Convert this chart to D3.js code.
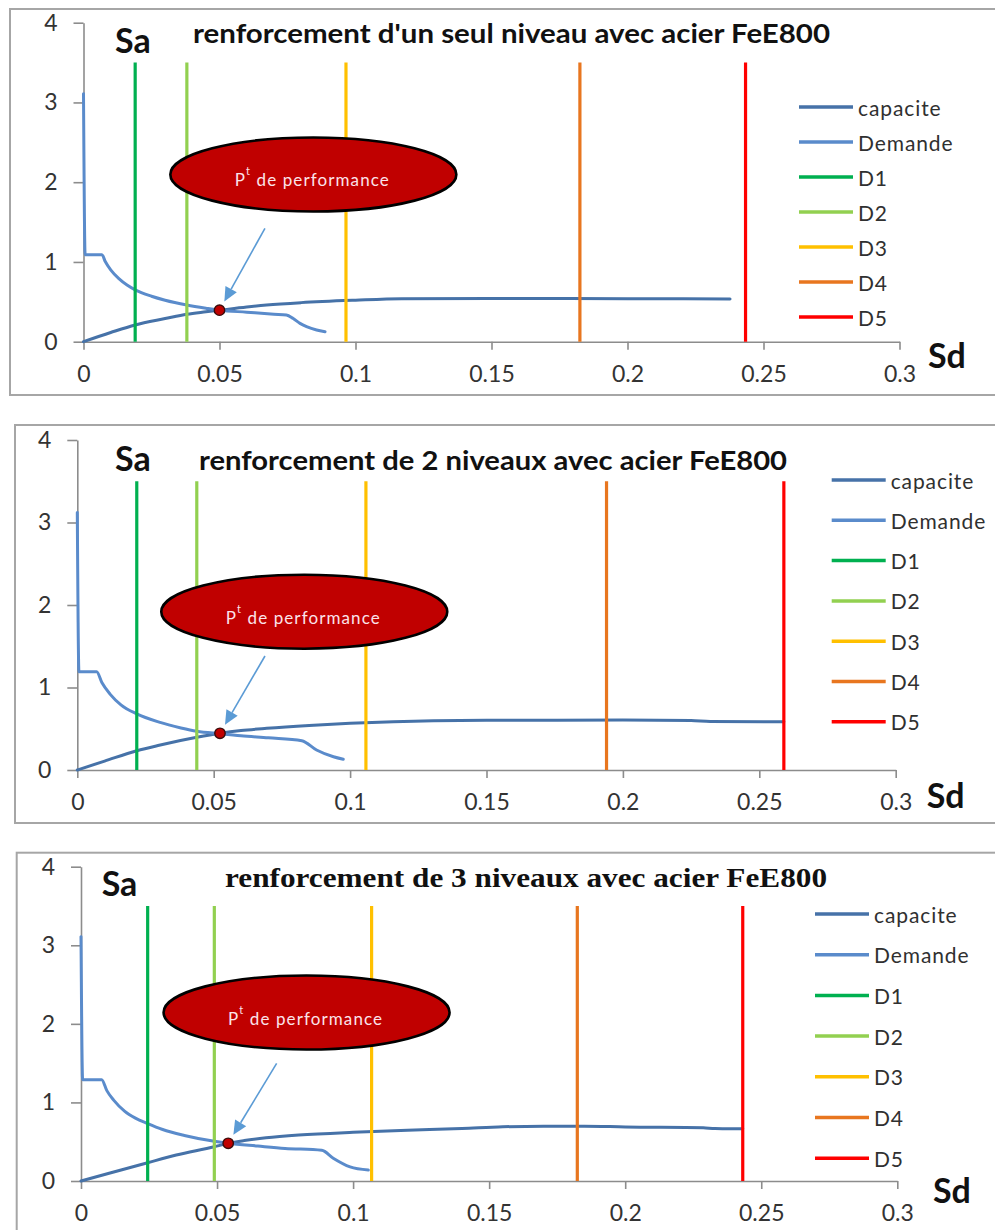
<!DOCTYPE html>
<html>
<head>
<meta charset="utf-8">
<script src="https://cdn.jsdelivr.net/npm/d3@7"></script>
<style>
  body { margin: 0; background: #fff; }
  svg { display: block; }
</style>
</head>
<body>
<script>
// ---- Axis ticks and legend ----
const sdTicks = [0, 0.05, 0.1, 0.15, 0.2, 0.25, 0.3];
const saTicks = [0, 1, 2, 3, 4];
const seriesNames = ["capacite", "Demande", "D1", "D2", "D3", "D4", "D5"];
const limitTop = 3.5;           // height (Sa) of the damage-limit lines D1..D5

const titles = [
  "renforcement d'un seul niveau avec acier FeE800",
  "renforcement de 2 niveaux avec acier FeE800",
  "renforcement de 3 niveaux avec acier FeE800"
];
const annotationText = ["P", "t", " de performance"];

// ---- Panel 1 : un seul niveau ----
const capacite1 = [[0,0],[0.01,0.115],[0.019,0.21],[0.03,0.29],[0.038,0.345],[0.045,0.375],[0.05,0.395],
  [0.06,0.435],[0.0673,0.46],[0.08,0.49],[0.1,0.52],[0.117,0.538],[0.15,0.543],[0.2,0.54],[0.2377,0.535]];
const demande1 = [[0,3.11],[0.0006,1.09],[0.0068,1.09],[0.008,1.005],[0.01,0.9],[0.013,0.79],[0.016,0.71],
  [0.019,0.65],[0.025,0.57],[0.03,0.52],[0.038,0.46],[0.045,0.42],[0.05,0.395],[0.06,0.37],[0.07,0.345],
  [0.0746,0.335],[0.0771,0.29],[0.0796,0.23],[0.082,0.19],[0.0857,0.147],[0.0888,0.125]];
const limits1 = [0.019, 0.038, 0.0965, 0.1825, 0.2434];
const perf1 = [0.05, 0.395];

// ---- Panel 2 : 2 niveaux ----
const capacite2 = [[0,0],[0.01,0.108],[0.0218,0.234],[0.03,0.3],[0.0438,0.396],[0.0523,0.445],[0.06,0.478],
  [0.0694,0.505],[0.085,0.54],[0.1,0.566],[0.1305,0.598],[0.15,0.603],[0.2,0.605],[0.225,0.6],[0.232,0.588],[0.259,0.585]];
const demande2 = [[0,3.12],[0.0006,1.19],[0.0071,1.19],[0.009,1.06],[0.012,0.92],[0.016,0.79],[0.0218,0.68],
  [0.03,0.58],[0.038,0.51],[0.0438,0.47],[0.0523,0.44],[0.06,0.415],[0.07,0.39],[0.0823,0.355],[0.0877,0.242],
  [0.0939,0.16],[0.0975,0.13]];
const limits2 = [0.0218, 0.0438, 0.1058, 0.194, 0.259];
const perf2 = [0.0523, 0.445];

// ---- Panel 3 : 3 niveaux ----
const capacite3 = [[0,0],[0.01,0.095],[0.0245,0.233],[0.035,0.33],[0.049,0.436],[0.0541,0.48],[0.06,0.515],
  [0.068,0.55],[0.08,0.585],[0.1,0.62],[0.12,0.645],[0.14,0.668],[0.155,0.69],[0.17,0.698],[0.185,0.698],
  [0.2,0.688],[0.2287,0.678],[0.233,0.667],[0.2432,0.665]];
const demande3 = [[0,3.11],[0.0006,1.29],[0.0076,1.29],[0.0095,1.15],[0.012,1.03],[0.016,0.89],[0.02,0.8],
  [0.0245,0.73],[0.03,0.655],[0.038,0.58],[0.049,0.505],[0.0541,0.48],[0.065,0.445],[0.075,0.415],
  [0.0885,0.39],[0.0927,0.29],[0.0989,0.18],[0.1056,0.14]];
const limits3 = [0.0245, 0.049, 0.1068, 0.1824, 0.2432];
const perf3 = [0.0541, 0.48];

// ---- Styles ----
const colors = {
  capacite: "#4672a8", Demande: "#5a8bcb",
  D1: "#00b050", D2: "#92d050", D3: "#ffc000", D4: "#e8761f", D5: "#ff0000"
};
const sans = "Lato, 'Open Sans', sans-serif";
const serif = "'Liberation Serif', 'DejaVu Serif', serif";

// Layout of each panel (pixels) and placement of its annotation (data units)
const panels = [
  { cap: capacite1, dem: demande1, lim: limits1, perf: perf1, title: titles[0],
    frame: [10, 9, 395], x: [83.5, 899.5], y: [341.7, 22.7],
    titlePos: [193, 43, 637], titleFont: sans, titleSize: 27,
    sa: [115, 53], sd: [928, 368], legend: [799, 107, 35],
    ellipse: [0.0845, 2.097], arrowFrom: [0.0667, 1.422] },
  { cap: capacite2, dem: demande2, lim: limits2, perf: perf2, title: titles[1],
    frame: [15, 425, 823], x: [77.3, 895.7], y: [770, 440],
    titlePos: [199, 470, 588], titleFont: sans, titleSize: 27,
    sa: [115, 470.7], sd: [926.7, 808], legend: [831.7, 480, 40.3],
    ellipse: [0.0832, 1.919], arrowFrom: [0.0688, 1.382] },
  { cap: capacite3, dem: demande3, lim: limits3, perf: perf3, title: titles[2],
    frame: [16.7, 852.7, 1260], x: [81, 897.3], y: [1181, 866.7],
    titlePos: [225, 887, 602], titleFont: serif, titleSize: 27,
    sa: [101.7, 895.5], sd: [933, 1203], legend: [815, 914, 40.7],
    ellipse: [0.0829, 2.144], arrowFrom: [0.0719, 1.497] }
];

const W = 995, H = 1230;
const svg = d3.select("body").append("svg").attr("width", W).attr("height", H)
  .style("background", "#fff");

panels.forEach(p => drawPanel(p));

function drawPanel(p) {
  const g = svg.append("g");
  const x = d3.scaleLinear().domain([0, 0.3]).range(p.x);
  const y = d3.scaleLinear().domain([0, 4]).range(p.y);

  // chart frame
  g.append("rect")
    .attr("x", p.frame[0]).attr("y", p.frame[1])
    .attr("width", W + 20 - p.frame[0]).attr("height", p.frame[2] - p.frame[1])
    .attr("fill", "none").attr("stroke", "#a6a6a6").attr("stroke-width", 2);

  // axes
  const yAxis = d3.axisLeft(y).tickValues(saTicks).tickFormat(d3.format("d"))
    .tickSize(10).tickSizeOuter(0).tickPadding(16);
  const xAxis = d3.axisBottom(x).tickValues(sdTicks).tickFormat(d => d === 0 ? "0" : String(+d.toFixed(2)))
    .tickSize(8).tickSizeOuter(0).tickPadding(16);

  const gy = g.append("g").attr("transform", `translate(${p.x[0]},0)`).call(yAxis);
  const gx = g.append("g").attr("transform", `translate(0,${p.y[0]})`).call(xAxis);
  [gx, gy].forEach(a => {
    a.select(".domain").attr("stroke", "#8c8c8c").attr("stroke-width", 1.6);
    a.selectAll(".tick line").attr("stroke", "#8c8c8c").attr("stroke-width", 1.6);
    a.selectAll(".tick text").attr("font-family", sans).attr("font-size", 23)
      .attr("fill", "#333");
  });

  // curves
  const line = d3.line().x(d => x(d[0])).y(d => y(d[1])).curve(d3.curveMonotoneX);
  g.append("path").datum(p.cap).attr("d", line).attr("fill", "none")
    .attr("stroke", colors.capacite).attr("stroke-width", 3).attr("stroke-linecap", "round");
  g.append("path").datum(p.dem).attr("d", line).attr("fill", "none")
    .attr("stroke", colors.Demande).attr("stroke-width", 3).attr("stroke-linecap", "round")
    .attr("stroke-linejoin", "round");

  // damage-limit lines D1..D5
  g.selectAll(".lim").data(p.lim).enter().append("line")
    .attr("x1", d => x(d)).attr("x2", d => x(d))
    .attr("y1", y(0)).attr("y2", y(limitTop))
    .attr("stroke", (d, i) => colors[seriesNames[i + 2]]).attr("stroke-width", 3.2);

  // titles and axis names
  g.append("text").attr("x", p.titlePos[0]).attr("y", p.titlePos[1])
    .attr("textLength", p.titlePos[2]).attr("lengthAdjust", "spacingAndGlyphs")
    .attr("font-family", p.titleFont).attr("font-weight", "bold").attr("font-size", p.titleSize)
    .attr("fill", "#111").text(p.title);
  g.append("text").attr("x", p.sa[0]).attr("y", p.sa[1])
    .attr("font-family", sans).attr("font-weight", "bold").attr("font-size", 34)
    .attr("fill", "#111").text("Sa");
  g.append("text").attr("x", p.sd[0]).attr("y", p.sd[1])
    .attr("font-family", sans).attr("font-weight", "bold").attr("font-size", 34)
    .attr("fill", "#111").text("Sd");

  // legend
  const lg = g.append("g");
  seriesNames.forEach((name, i) => {
    const ly = p.legend[1] + i * p.legend[2];
    lg.append("line").attr("x1", p.legend[0]).attr("x2", p.legend[0] + 54)
      .attr("y1", ly).attr("y2", ly).attr("stroke", colors[name]).attr("stroke-width", 3.5);
    lg.append("text").attr("x", p.legend[0] + 59).attr("y", ly)
      .attr("dominant-baseline", "central")
      .attr("font-family", sans).attr("font-size", 21).attr("letter-spacing", 0.9)
      .attr("fill", "#303030").text(name);
  });

  // performance point
  const px = x(p.perf[0]), py = y(p.perf[1]);

  // annotation arrow toward the performance point
  const ax = x(p.arrowFrom[0]), ay = y(p.arrowFrom[1]);
  const dx = px - ax, dy = py - ay, len = Math.hypot(dx, dy);
  const ux = dx / len, uy = dy / len;
  const tipX = px - ux * 10, tipY = py - uy * 10;
  const headL = 14, headW = 6.5;
  const bx = tipX - ux * headL, by = tipY - uy * headL;
  g.append("line").attr("x1", ax).attr("y1", ay).attr("x2", bx).attr("y2", by)
    .attr("stroke", "#5b9bd5").attr("stroke-width", 1.6);
  g.append("path")
    .attr("d", `M${tipX},${tipY}L${bx - uy * headW},${by + ux * headW}L${bx + uy * headW},${by - ux * headW}Z`)
    .attr("fill", "#5b9bd5");

  g.append("circle").attr("cx", px).attr("cy", py).attr("r", 5.2)
    .attr("fill", "#c00000").attr("stroke", "#3a0a0a").attr("stroke-width", 1.4);

  // callout ellipse
  const ex = x(p.ellipse[0]), ey = y(p.ellipse[1]);
  g.append("ellipse").attr("cx", ex).attr("cy", ey).attr("rx", 143).attr("ry", 37)
    .attr("fill", "#c00000").attr("stroke", "#000").attr("stroke-width", 2.6);
  const t = g.append("text").attr("x", ex - 1).attr("y", ey + 12)
    .attr("text-anchor", "middle").attr("font-family", sans).attr("font-size", 17)
    .attr("letter-spacing", 1.1).attr("fill", "#fbe3ea");
  t.append("tspan").text(annotationText[0]);
  t.append("tspan").attr("dy", -11).attr("font-size", 11).text(annotationText[1]);
  t.append("tspan").attr("dy", 11).text(annotationText[2]);
}
</script>
</body>
</html>
